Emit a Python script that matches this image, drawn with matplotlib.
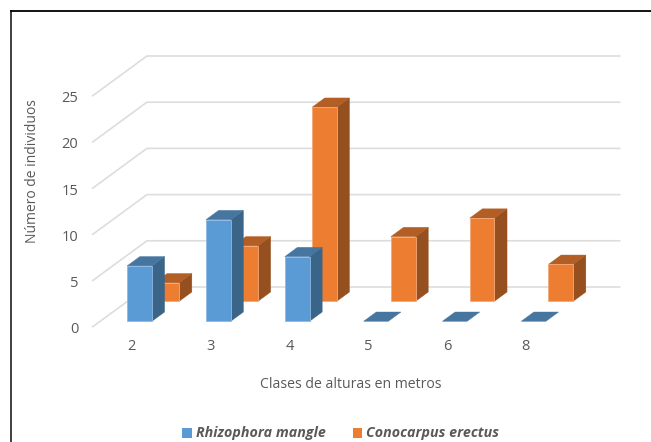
import matplotlib
matplotlib.use('Agg')
import matplotlib.pyplot as plt
from matplotlib.patches import Polygon, Rectangle

plt.rcParams['font.family'] = ['Open Sans', 'DejaVu Sans']

categories = ['2', '3', '4', '5', '6', '8']
rhizophora = [6, 11, 7, 0, 0, 0]
conocarpus = [2, 6, 21, 7, 9, 4]
y_ticks = [0, 5, 10, 15, 20, 25]

W, H = 651, 442
PX_X = 78.8   # pixels per category
PX_Y = 9.24   # pixels per individual
X0 = 132.2    # pixel of first category on the front edge
Y0 = 326.7    # pixel of value 0 on the front edge

# oblique view, depth 0 = front of floor, depth 1 = back wall
DX = 54.1 / PX_X
DY = 39.7 / PX_Y
BAR_W = 24.7 / PX_X
GREY = '#595959'
GRID = '#DDDDDD'


def proj(x, v, d):
    return (x + DX * d, v + DY * d)


def box(ax, x, v, d0, d1, face, top, side, edge, z):
    l, r = x - BAR_W / 2, x + BAR_W / 2
    if v > 0:
        ax.add_patch(Polygon([proj(r, 0, d0), proj(r, 0, d1), proj(r, v, d1), proj(r, v, d0)],
                             fc=side, ec=side, lw=0.3, zorder=z))
        ax.add_patch(Polygon([proj(l, 0, d0), proj(r, 0, d0), proj(r, v, d0), proj(l, v, d0)],
                             fc=face, ec=edge, lw=0.6, zorder=z + 0.2))
    ax.add_patch(Polygon([proj(l, v, d0), proj(r, v, d0), proj(r, v, d1), proj(l, v, d1)],
                         fc=top, ec=top, lw=0.3, zorder=z + 0.1))


fig = plt.figure(figsize=(W / 100, H / 100), dpi=100)
ax = fig.add_axes([0, 0, 1, 1])
ax.set_xlim((0 - X0) / PX_X, (W - X0) / PX_X)
ax.set_ylim((Y0 - H) / PX_Y, Y0 / PX_Y)
ax.axis('off')

# outer frame, open on the right and at the bottom
fig.add_artist(plt.Line2D([10.5 / W, 10.5 / W], [0, 1 - 10.5 / H], color='#303030', lw=1.3))
fig.add_artist(plt.Line2D([10.5 / W, 1], [1 - 10.5 / H, 1 - 10.5 / H], color='#000000', lw=1.3))

# grid on side wall and back wall
x_left = -0.5
x_right = len(categories) - 0.5
for t in y_ticks:
    a = proj(x_left, t, 0)
    b = proj(x_left, t, 1)
    c = proj(x_right, t, 1)
    ax.plot([a[0], b[0], c[0]], [a[1], b[1], c[1]], color=GRID, lw=1.2, zorder=1,
            solid_joinstyle='miter')
    ax.text(x_left - 14.5 / PX_X, t - 0.32, str(t), ha='right', va='center', fontsize=10.5, color=GREY)

# back row first, front row on top
for i, v in enumerate(conocarpus):
    box(ax, i, v, 0.64, 0.874, '#ED7D31', '#B25E24', '#964F1F', '#F4A878', 2 + i)
for i, v in enumerate(rhizophora):
    box(ax, i, v, 0.136, 0.37, '#5B9BD5', '#4675A0', '#3A6488', '#8DB9E2', 10 + i)

for i, c in enumerate(categories):
    ax.text(i - 0.3 / PX_X, (Y0 - 346.5) / PX_Y, c, ha='center', va='center', fontsize=10.5, color=GREY)

ax.text((351 - X0) / PX_X, (Y0 - 384.5) / PX_Y, 'Clases de alturas en metros', ha='center', va='center',
        fontsize=10.1, color=GREY)
ax.text((32.5 - X0) / PX_X, (Y0 - 171.5) / PX_Y, 'Número de individuos', rotation=90, ha='center', va='center',
        fontsize=10, color=GREY)

# legend
for px, color, name, tx in [(182, '#5B9BD5', 'Rhizophora mangle', 196), (352.5, '#ED7D31', 'Conocarpus erectus', 366)]:
    ax.add_patch(Rectangle(((px - X0) / PX_X, (Y0 - 438) / PX_Y), 9.5 / PX_X, 10 / PX_Y, fc=color, ec='none'))
    ax.text((tx - X0) / PX_X, (Y0 - 432.5) / PX_Y, name, ha='left', va='center', fontsize=10.25,
            color=GREY, style='italic', weight='bold')

fig.savefig('out.png', dpi=100)
